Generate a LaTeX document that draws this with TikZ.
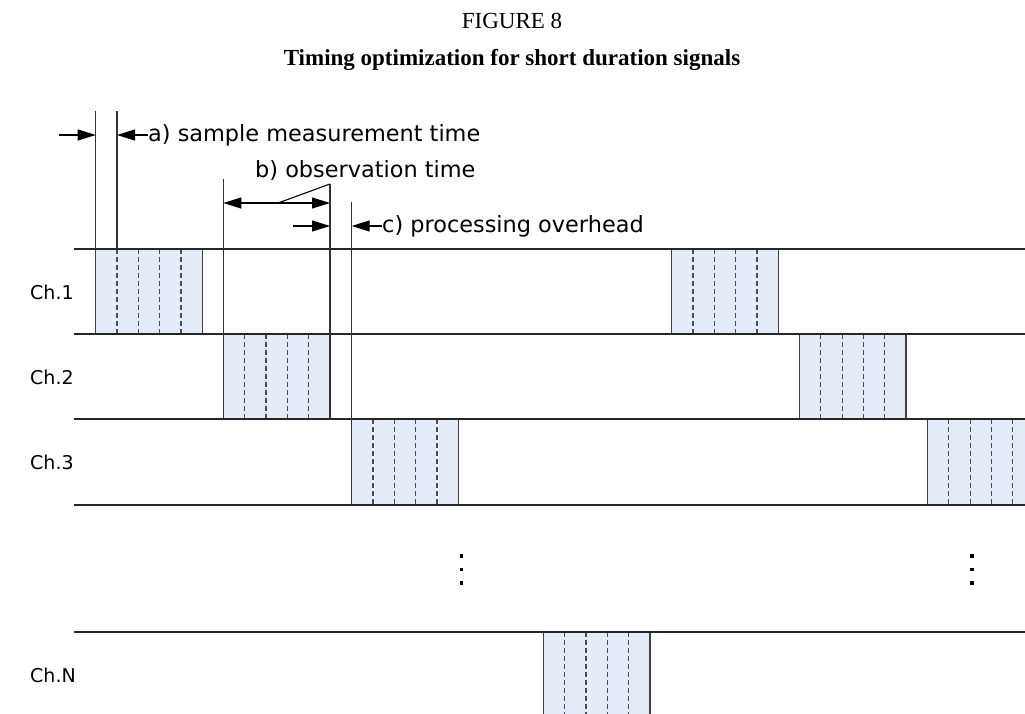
\documentclass[tikz,border=0pt]{standalone}
\usepackage{fontspec}
\setmainfont{Liberation Serif}
\newfontfamily\lab{DejaVu Sans}
\usetikzlibrary{arrows.meta}
\definecolor{boxfill}{HTML}{E6ECF7}
\definecolor{boxline}{HTML}{404040}
\tikzset{
  hline/.style={line width=1.1pt, black!85},
  vline/.style={line width=1.1pt, black!80},
  slot/.style={fill=boxfill, draw=boxline, line width=1.1pt},
  slice/.style={line width=1.1pt, black!70, dash pattern=on 5pt off 3pt},
  arr/.style={line width=1.1pt, -{Triangle[length=18pt,width=11pt]}},
  darr/.style={line width=1.1pt, {Triangle[length=18pt,width=11pt]}-{Triangle[length=18pt,width=11pt]}},
  note/.style={font=\lab\fontsize{22.4}{25}\selectfont, inner sep=0pt, anchor=west},
  chlab/.style={font=\lab\fontsize{19}{22}\selectfont, inner sep=0pt, anchor=west},
  dot/.style={fill=black, minimum size=3.2pt, inner sep=0pt},
  ttl/.style={inner sep=0pt, anchor=base, font=\fontsize{23}{26}\selectfont},
}
\newcommand{\slotbox}[5]{% name, x0, y0, x1, y1
  \fill[boxfill] (#2,#3) rectangle (#4,#5);
  \foreach \k in {1,2,3,4}{
    \draw[slice] ({#2+(#4-#2)*\k/5},#3) -- ({#2+(#4-#2)*\k/5},#5);
  }
  \coordinate (#1) at (#2,#3);
}
\begin{document}
\begin{tikzpicture}[x=1pt,y=-1pt]
\useasboundingbox (0,0) rectangle (1025,714);
% titles
\node[ttl] (t1) at (512,28.5) {FIGURE 8};
\node[ttl] (t2) at (512,65.5) {\bfseries Timing optimization for short duration signals};
% slots
\slotbox{s1}{95.7}{249}{202.3}{334}
\slotbox{s1b}{671.7}{249}{778.3}{334}
\slotbox{s2}{223.3}{334}{330}{419}
\slotbox{s2b}{799.5}{334}{906}{419}
\slotbox{s3}{351.7}{419}{458.3}{505}
\slotbox{s3b}{927.5}{419}{1034}{505}
\slotbox{sN}{543.3}{632}{650}{720}
\draw[slot,fill=none] (95.7,249) rectangle (202.3,334);
\draw[slot,fill=none] (671.7,249) rectangle (778.3,334);
\draw[slot,fill=none] (223.3,334) rectangle (330,419);
\draw[slot,fill=none] (799.5,334) rectangle (906,419);
\draw[slot,fill=none] (351.7,419) rectangle (458.3,505);
\draw[slot,fill=none] (1030,419) -- (927.5,419) -- (927.5,505) -- (1030,505);
\draw[slot,fill=none] (543.3,720) -- (543.3,632) -- (650,632) -- (650,720);
% channel lines
\foreach \yy in {249,334,419,505,632}{
  \draw[hline] (74,\yy) -- (1025,\yy);
}
% channel labels
\node[chlab] (c1) at (30,292) {Ch.1};
\node[chlab] (c2) at (30,377) {Ch.2};
\node[chlab] (c3) at (30,462) {Ch.3};
\node[chlab] (cN) at (30,675) {Ch.N};
% dots
\foreach \xx/\nm in {461.5/a,972/b}{
  \node[dot] (d1\nm) at (\xx,556) {};
  \node[dot] (d2\nm) at (\xx,569.5) {};
  \node[dot] (d3\nm) at (\xx,583) {};
}
% a) sample measurement time
\coordinate (aL) at (95.7,111);
\coordinate (aR) at (117,111);
\draw[vline] (aL) -- (95.7,249);
\draw[vline] (aR) -- (117,249);
\coordinate (aStart) at (59,135);
\coordinate (aLtip) at (95.7,135);
\coordinate (aRtip) at (117,135);
\node[note] (aText) at (148,135) {a) sample measurement time};
\draw[arr] (aStart) -- (aLtip);
\draw[arr] (aText.west) -- (aRtip);
% b) observation time
\coordinate (bL) at (223.3,179);
\coordinate (bR) at (330,184);
\draw[vline] (bL) -- (223.3,419);
\draw[vline] (bR) -- (330,419);
\coordinate (bLtip) at (223.3,203);
\coordinate (bRtip) at (330,203);
\draw[darr] (bLtip) -- (bRtip);
\coordinate (bLead) at (278,203);
\draw[line width=1.1pt] (bLead) -- (bR);
\node[note] (bText) at (255,170) {b) observation time};
% c) processing overhead
\coordinate (cL) at (351.7,202);
\draw[vline] (cL) -- (351.7,505);
\coordinate (cStart) at (293,226);
\coordinate (cLtip) at (330,226);
\coordinate (cRtip) at (351.7,226);
\draw[arr] (cStart) -- (cLtip);
\node[note] (cText) at (382,226) {c) processing overhead};
\draw[arr] (cText.west) -- (cRtip);
\end{tikzpicture}
\end{document}
